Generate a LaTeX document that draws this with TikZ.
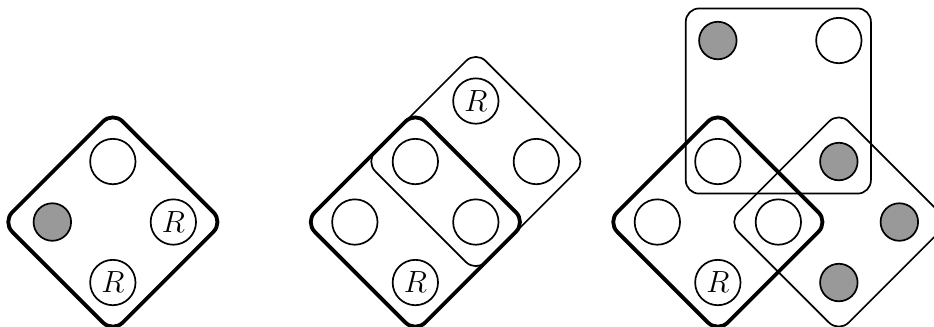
\documentclass[tikz,border=0pt]{standalone}
\usepackage{tikz}
\tikzset{
  thinbox/.style={draw, line width=0.8pt, rounded corners=0.23cm, inner sep=0pt, minimum width=2.58cm, minimum height=2.58cm, rotate=45},
  boldbox/.style={thinbox, line width=1.8pt},
  sqbox/.style={draw, line width=0.8pt, rounded corners=0.22cm, inner sep=0pt, minimum width=3.06cm, minimum height=3.06cm},
  wdot/.style={circle, draw, line width=0.8pt, fill=white, inner sep=0pt, minimum size=0.75cm, font=\Large},
  gdot/.style={circle, draw, line width=0.8pt, fill=black!40, inner sep=0pt, minimum size=0.62cm}
}
\begin{document}
\begin{tikzpicture}
\useasboundingbox (0,0) rectangle (15.438,5.405);
\def\xo{1.865}
\def\yo{1.735}
% panel 1
\node[boldbox] (p1d) at (\xo,\yo) {};
\node[wdot] (p1a) at (\xo,\yo+1) {};
\node[gdot] (p1b) at (\xo-1,\yo) {};
\node[wdot] (p1c) at (\xo+1,\yo) {$R$};
\node[wdot] (p1e) at (\xo,\yo-1) {$R$};
% panel 2
\node[thinbox] (p2t) at (\xo+6,\yo+1) {};
\node[boldbox] (p2d) at (\xo+5,\yo) {};
\node[wdot] (p2a) at (\xo+4,\yo) {};
\node[wdot] (p2b) at (\xo+5,\yo+1) {};
\node[wdot] (p2c) at (\xo+6,\yo) {};
\node[wdot] (p2e) at (\xo+5,\yo-1) {$R$};
\node[wdot] (p2f) at (\xo+6,\yo+2) {$R$};
\node[wdot] (p2g) at (\xo+7,\yo+1) {};
% panel 3
\node[sqbox] (p3s) at (\xo+11,\yo+2) {};
\node[thinbox] (p3t) at (\xo+12,\yo) {};
\node[boldbox] (p3d) at (\xo+10,\yo) {};
\node[gdot] (p3a) at (\xo+10,\yo+3) {};
\node[wdot] (p3b) at (\xo+12,\yo+3) {};
\node[wdot] (p3c) at (\xo+10,\yo+1) {};
\node[gdot] (p3e) at (\xo+12,\yo+1) {};
\node[wdot] (p3f) at (\xo+9,\yo) {};
\node[wdot] (p3g) at (\xo+11,\yo) {};
\node[gdot] (p3h) at (\xo+13,\yo) {};
\node[wdot] (p3i) at (\xo+10,\yo-1) {$R$};
\node[gdot] (p3j) at (\xo+12,\yo-1) {};
\end{tikzpicture}
\end{document}
